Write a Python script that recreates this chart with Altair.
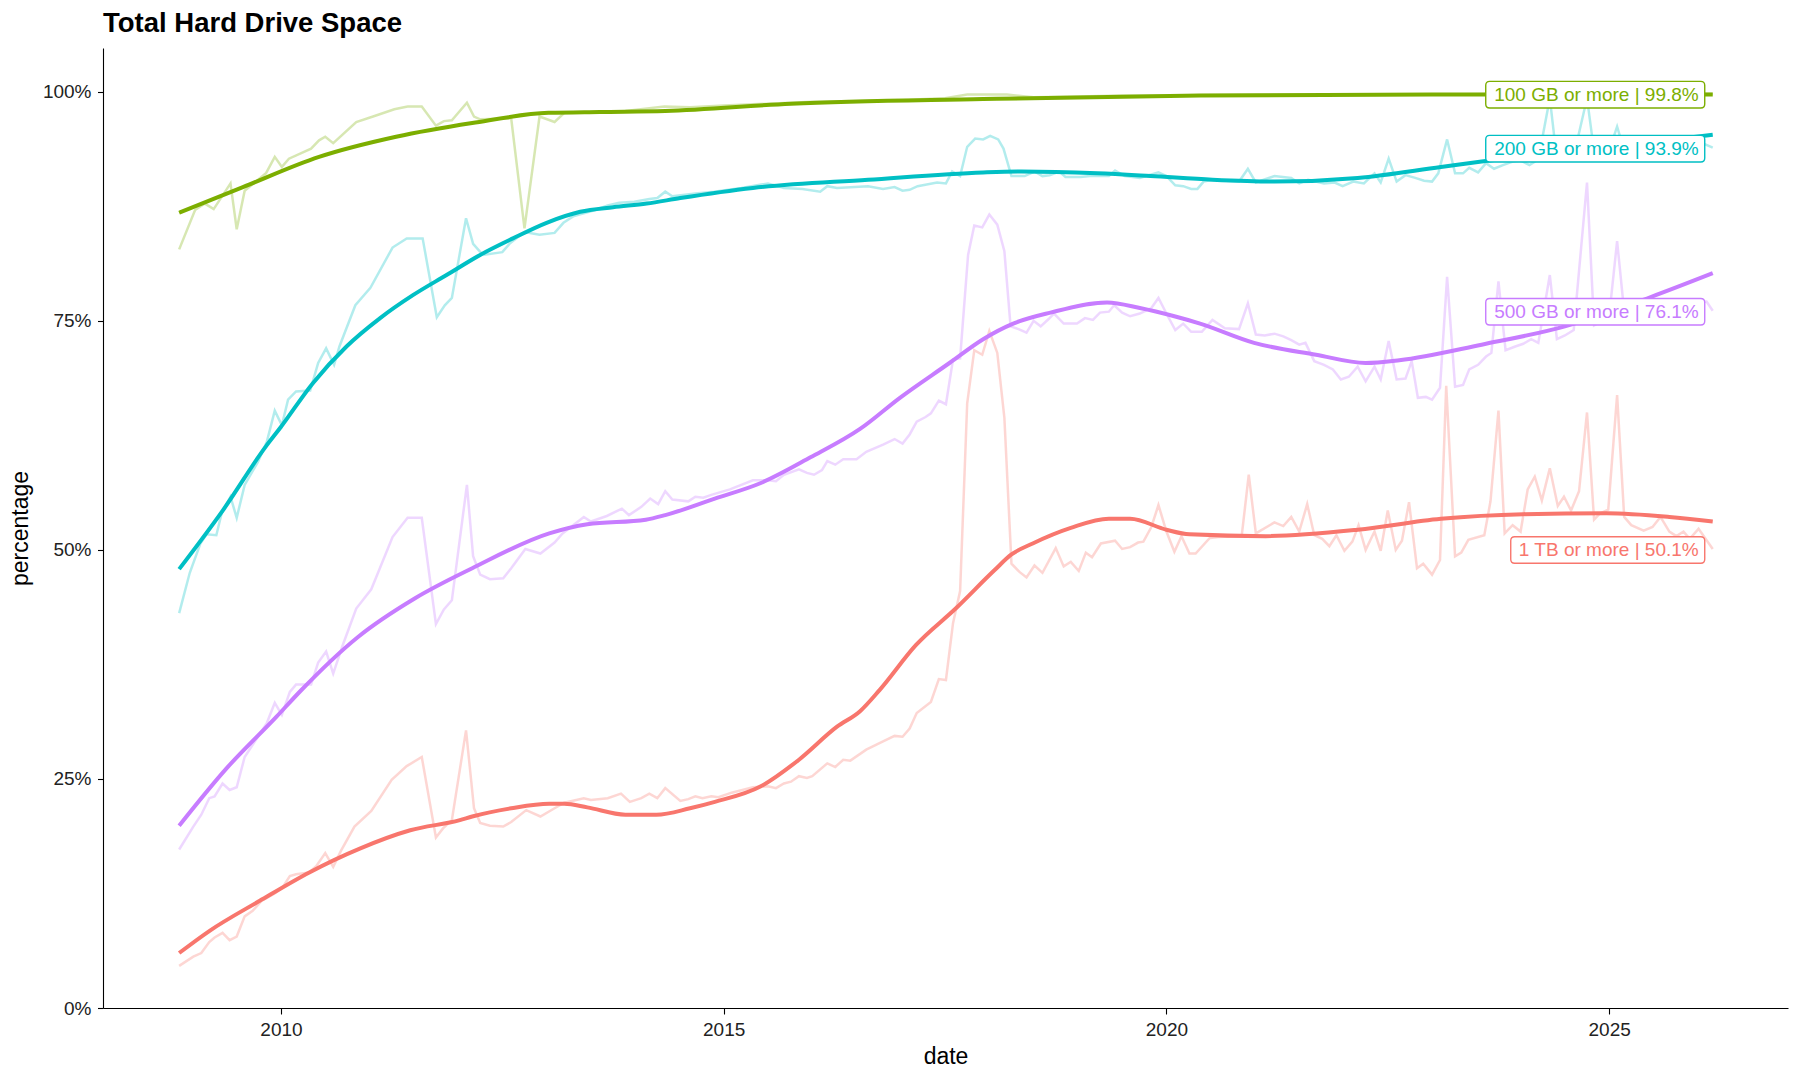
import altair as alt
import pandas as pd

SERIES = ["1 TB or more", "100 GB or more", "200 GB or more", "500 GB or more"]
COLORS = ["#F8766D", "#7CAE00", "#00BFC4", "#C77CFF"]

# ---- raw monthly readings: (decimal year, percent) ----
RAW_1TB = [
    (2008.85, 4.6), (2009.01, 5.6), (2009.10, 6.0), (2009.19, 7.2), (2009.25, 7.7), (2009.34, 8.2),
    (2009.42, 7.4), (2009.50, 7.8), (2009.59, 10.0), (2009.68, 10.6), (2009.78, 11.7), (2009.93, 12.5),
    (2010.02, 13.2), (2010.10, 14.4), (2010.17, 14.6), (2010.32, 14.8), (2010.40, 15.5), (2010.50, 16.9),
    (2010.59, 15.4), (2010.68, 17.2), (2010.83, 19.8), (2011.02, 21.5), (2011.25, 24.9), (2011.42, 26.4),
    (2011.59, 27.4), (2011.75, 18.6), (2011.83, 19.6), (2011.93, 20.5), (2012.09, 30.3), (2012.18, 21.8),
    (2012.25, 20.2), (2012.36, 19.9), (2012.51, 19.8), (2012.60, 20.3), (2012.77, 21.6), (2012.93, 20.9),
    (2013.09, 21.8), (2013.20, 22.4), (2013.42, 22.9), (2013.50, 22.7), (2013.69, 22.9), (2013.84, 23.4),
    (2013.94, 22.5), (2014.07, 22.9), (2014.16, 23.4), (2014.25, 22.9), (2014.34, 24.0), (2014.51, 22.6),
    (2014.60, 22.8), (2014.68, 23.1), (2014.76, 22.9), (2014.86, 23.1), (2014.94, 23.0), (2015.09, 23.5),
    (2015.33, 24.1), (2015.50, 24.2), (2015.59, 24.0), (2015.68, 24.5), (2015.76, 24.7), (2015.85, 25.3),
    (2015.94, 25.1), (2016.00, 25.3), (2016.17, 26.7), (2016.26, 26.3), (2016.35, 27.1), (2016.43, 27.0),
    (2016.61, 28.2), (2016.80, 29.1), (2016.93, 29.7), (2017.02, 29.6), (2017.10, 30.5), (2017.18, 32.2),
    (2017.34, 33.4), (2017.43, 35.9), (2017.51, 35.8), (2017.59, 42.0), (2017.67, 45.5), (2017.75, 66.0),
    (2017.83, 71.8), (2017.92, 71.3), (2018.00, 73.9), (2018.09, 71.5), (2018.17, 64.4), (2018.25, 48.5),
    (2018.34, 47.6), (2018.42, 47.0), (2018.51, 48.3), (2018.60, 47.5), (2018.75, 50.2), (2018.84, 48.2),
    (2018.92, 48.7), (2019.01, 47.7), (2019.09, 49.7), (2019.16, 49.2), (2019.26, 50.7), (2019.42, 51.0),
    (2019.50, 50.1), (2019.59, 50.3), (2019.68, 50.8), (2019.74, 50.9), (2019.83, 52.5), (2019.91, 54.9),
    (2020.00, 52.0), (2020.09, 49.8), (2020.17, 51.5), (2020.26, 49.6), (2020.33, 49.6), (2020.49, 51.3),
    (2020.59, 51.4), (2020.85, 51.5), (2020.93, 58.2), (2021.01, 51.8), (2021.22, 53.0), (2021.32, 52.6),
    (2021.41, 53.6), (2021.50, 52.0), (2021.59, 55.0), (2021.67, 51.6), (2021.76, 51.2), (2021.84, 50.4),
    (2021.92, 51.6), (2022.01, 49.9), (2022.10, 50.9), (2022.17, 52.7), (2022.25, 50.0), (2022.35, 52.0),
    (2022.42, 49.9), (2022.50, 54.3), (2022.59, 50.0), (2022.66, 51.0), (2022.74, 55.2), (2022.83, 48.0),
    (2022.90, 48.5), (2023.00, 47.3), (2023.09, 48.9), (2023.16, 67.9), (2023.26, 49.3), (2023.33, 49.7),
    (2023.41, 51.1), (2023.59, 51.6), (2023.66, 55.3), (2023.75, 65.2), (2023.82, 51.8), (2023.91, 52.7),
    (2024.00, 52.0), (2024.08, 56.6), (2024.16, 58.0), (2024.24, 55.4), (2024.33, 58.9), (2024.42, 54.8),
    (2024.49, 55.8), (2024.57, 54.3), (2024.66, 56.4), (2024.75, 65.0), (2024.83, 53.3), (2024.90, 54.0),
    (2024.99, 54.4), (2025.09, 66.9), (2025.17, 53.6), (2025.25, 52.7), (2025.39, 52.1), (2025.49, 52.5),
    (2025.58, 53.6), (2025.68, 52.0), (2025.76, 51.5), (2025.84, 52.0), (2025.91, 51.2), (2026.01, 52.3),
    (2026.17, 50.1),
]

RAW_100GB = [
    (2008.85, 82.8), (2009.03, 87.1), (2009.14, 87.8), (2009.24, 87.2), (2009.43, 90.0), (2009.50, 85.0),
    (2009.59, 89.2), (2009.83, 91.1), (2009.93, 92.9), (2010.01, 91.8), (2010.09, 92.7), (2010.34, 93.8),
    (2010.43, 94.7), (2010.50, 95.1), (2010.59, 94.4), (2010.85, 96.7), (2011.04, 97.3), (2011.28, 98.1),
    (2011.43, 98.4), (2011.59, 98.4), (2011.75, 96.3), (2011.84, 96.8), (2011.93, 96.9), (2012.10, 98.8),
    (2012.18, 97.3), (2012.25, 97.0), (2012.60, 97.1), (2012.75, 85.1), (2012.92, 97.3), (2013.09, 96.7),
    (2013.20, 97.7), (2013.89, 97.9), (2014.33, 98.4), (2014.62, 98.3), (2015.00, 98.5), (2015.50, 98.7),
    (2016.00, 98.9), (2016.50, 99.0), (2017.00, 99.1), (2017.50, 99.3), (2017.75, 99.7), (2018.20, 99.7),
    (2018.50, 99.4), (2019.00, 99.5), (2019.50, 99.6), (2020.00, 99.6), (2021.00, 99.7), (2022.00, 99.7),
    (2023.00, 99.7), (2024.00, 99.8), (2025.00, 99.8), (2026.17, 99.8),
]

RAW_200GB = [
    (2008.85, 43.1), (2008.97, 47.5), (2009.09, 50.7), (2009.16, 51.7), (2009.27, 51.6), (2009.33, 54.0),
    (2009.43, 55.8), (2009.50, 53.5), (2009.59, 57.1), (2009.74, 59.6), (2009.84, 61.8), (2009.93, 65.2),
    (2010.01, 63.6), (2010.08, 66.4), (2010.17, 67.3), (2010.33, 67.4), (2010.42, 70.4), (2010.51, 72.0),
    (2010.60, 70.2), (2010.66, 72.2), (2010.84, 76.7), (2011.01, 78.6), (2011.26, 83.0), (2011.42, 84.0),
    (2011.60, 84.0), (2011.76, 75.4), (2011.85, 76.7), (2011.93, 77.5), (2012.09, 86.2), (2012.17, 83.4),
    (2012.28, 82.2), (2012.50, 82.5), (2012.58, 83.4), (2012.75, 84.7), (2012.92, 84.4), (2013.09, 84.6),
    (2013.19, 85.7), (2013.30, 86.4), (2013.55, 87.1), (2013.69, 87.6), (2013.82, 87.9), (2013.99, 88.0),
    (2014.16, 88.3), (2014.25, 88.4), (2014.34, 89.1), (2014.42, 88.6), (2014.68, 88.9), (2014.89, 89.1),
    (2015.20, 89.5), (2015.50, 90.0), (2015.68, 89.5), (2015.89, 89.4), (2016.09, 89.1), (2016.17, 89.7),
    (2016.28, 89.5), (2016.63, 89.7), (2016.80, 89.4), (2016.93, 89.6), (2017.02, 89.2), (2017.10, 89.3),
    (2017.19, 89.7), (2017.41, 90.1), (2017.51, 90.0), (2017.58, 91.3), (2017.67, 90.8), (2017.75, 94.0),
    (2017.84, 94.9), (2017.93, 94.8), (2018.01, 95.2), (2018.10, 94.8), (2018.16, 93.8), (2018.25, 90.8),
    (2018.40, 90.8), (2018.51, 91.3), (2018.60, 90.8), (2018.68, 90.9), (2018.79, 91.3), (2018.86, 90.7),
    (2019.03, 90.7), (2019.14, 90.8), (2019.35, 90.8), (2019.42, 91.4), (2019.53, 90.8), (2019.70, 90.6),
    (2019.91, 91.2), (2020.00, 90.8), (2020.10, 89.8), (2020.19, 89.7), (2020.28, 89.4), (2020.35, 89.4),
    (2020.42, 90.2), (2020.52, 90.4), (2020.82, 90.2), (2020.92, 91.6), (2021.01, 90.1), (2021.22, 90.8),
    (2021.41, 90.6), (2021.50, 90.0), (2021.60, 90.4), (2021.78, 90.0), (2021.90, 90.1), (2021.99, 89.7),
    (2022.11, 90.2), (2022.23, 90.0), (2022.35, 91.1), (2022.42, 90.1), (2022.51, 92.7), (2022.60, 90.2),
    (2022.70, 90.9), (2022.81, 90.6), (2022.91, 90.3), (2023.00, 90.2), (2023.07, 91.1), (2023.17, 94.8),
    (2023.26, 91.1), (2023.35, 91.1), (2023.42, 91.7), (2023.52, 91.2), (2023.61, 92.2), (2023.70, 91.6),
    (2023.80, 92.0), (2023.92, 92.4), (2024.00, 92.5), (2024.10, 92.0), (2024.20, 92.6), (2024.33, 99.3),
    (2024.41, 92.6), (2024.50, 93.0), (2024.60, 93.0), (2024.75, 99.3), (2024.83, 93.5), (2024.92, 93.2),
    (2025.00, 93.6), (2025.09, 96.2), (2025.17, 93.6), (2025.30, 93.5), (2025.50, 94.0), (2025.70, 94.0),
    (2025.90, 94.2), (2026.05, 94.4), (2026.17, 93.9),
]

RAW_500GB = [
    (2008.85, 17.3), (2009.01, 19.8), (2009.10, 21.1), (2009.19, 22.9), (2009.25, 23.1), (2009.34, 24.5),
    (2009.42, 23.8), (2009.50, 24.1), (2009.59, 27.4), (2009.74, 29.6), (2009.84, 31.1), (2009.93, 33.3),
    (2010.01, 32.0), (2010.10, 34.5), (2010.17, 35.3), (2010.34, 35.3), (2010.42, 37.7), (2010.51, 38.9),
    (2010.59, 36.5), (2010.69, 39.4), (2010.85, 43.6), (2011.02, 45.7), (2011.26, 51.4), (2011.43, 53.5),
    (2011.59, 53.5), (2011.75, 41.9), (2011.84, 43.5), (2011.93, 44.5), (2012.10, 57.1), (2012.17, 49.3),
    (2012.25, 47.3), (2012.36, 46.8), (2012.51, 46.9), (2012.60, 48.0), (2012.76, 50.1), (2012.93, 49.6),
    (2013.09, 50.8), (2013.18, 51.8), (2013.42, 53.6), (2013.50, 53.1), (2013.68, 53.7), (2013.85, 54.5),
    (2013.93, 53.8), (2014.07, 54.7), (2014.17, 55.6), (2014.26, 55.0), (2014.34, 56.4), (2014.42, 55.5),
    (2014.60, 55.3), (2014.68, 55.8), (2014.77, 55.7), (2014.86, 56.0), (2015.07, 56.6), (2015.33, 57.6),
    (2015.50, 57.6), (2015.59, 57.5), (2015.68, 58.2), (2015.85, 58.8), (2015.94, 58.4), (2016.02, 58.2),
    (2016.11, 58.7), (2016.17, 59.7), (2016.26, 59.3), (2016.35, 59.9), (2016.50, 59.9), (2016.61, 60.7),
    (2016.80, 61.5), (2016.93, 62.1), (2017.02, 61.6), (2017.10, 62.6), (2017.18, 64.0), (2017.28, 64.5),
    (2017.34, 64.9), (2017.43, 66.3), (2017.51, 65.9), (2017.59, 70.8), (2017.67, 70.9), (2017.76, 82.2),
    (2017.83, 85.4), (2017.92, 85.2), (2018.00, 86.6), (2018.09, 85.5), (2018.17, 82.6), (2018.24, 74.4),
    (2018.33, 74.1), (2018.42, 73.7), (2018.50, 75.0), (2018.58, 74.4), (2018.67, 75.2), (2018.73, 75.8),
    (2018.84, 74.7), (2018.99, 74.7), (2019.08, 75.3), (2019.17, 75.1), (2019.25, 75.9), (2019.35, 76.0),
    (2019.41, 76.7), (2019.50, 75.9), (2019.59, 75.5), (2019.70, 75.8), (2019.83, 76.4), (2019.91, 77.5),
    (2020.00, 75.8), (2020.10, 74.0), (2020.19, 74.7), (2020.28, 73.8), (2020.40, 73.8), (2020.52, 75.1),
    (2020.66, 74.2), (2020.82, 74.1), (2020.92, 76.9), (2021.01, 73.5), (2021.11, 73.4), (2021.22, 73.6),
    (2021.32, 73.3), (2021.41, 72.9), (2021.50, 72.4), (2021.57, 72.6), (2021.67, 70.6), (2021.78, 70.2),
    (2021.88, 69.7), (2021.97, 68.6), (2022.06, 68.9), (2022.16, 70.0), (2022.25, 68.4), (2022.35, 70.0),
    (2022.42, 68.6), (2022.51, 72.8), (2022.60, 68.6), (2022.70, 68.7), (2022.77, 70.6), (2022.84, 66.6),
    (2022.93, 66.7), (2023.00, 66.4), (2023.09, 67.7), (2023.17, 79.8), (2023.26, 67.8), (2023.35, 68.0),
    (2023.42, 69.7), (2023.52, 70.2), (2023.61, 71.1), (2023.67, 71.5), (2023.75, 79.3), (2023.83, 71.8),
    (2023.94, 72.2), (2024.03, 72.5), (2024.12, 73.0), (2024.20, 72.6), (2024.33, 80.0), (2024.41, 73.0),
    (2024.50, 73.4), (2024.60, 74.0), (2024.75, 90.1), (2024.83, 74.5), (2024.92, 75.0), (2025.00, 75.5),
    (2025.09, 83.7), (2025.17, 76.0), (2025.30, 76.0), (2025.50, 76.5), (2025.70, 76.6), (2025.90, 77.0),
    (2026.10, 77.1), (2026.17, 76.1),
]

# ---- smoothed trend readings: (decimal year, percent) ----
SMOOTH_1TB = [
    (2008.85, 6.0), (2009.19, 8.4), (2009.76, 11.7), (2010.32, 14.8), (2010.89, 17.4), (2011.46, 19.4),
    (2012.02, 20.5), (2012.16, 20.9), (2012.60, 21.8), (2013.03, 22.3), (2013.20, 22.3), (2013.46, 21.9),
    (2013.89, 21.1), (2014.24, 21.1), (2014.62, 21.8), (2014.90, 22.5), (2015.42, 24.2), (2015.85, 27.1),
    (2016.28, 30.7), (2016.54, 32.4), (2016.76, 34.7), (2017.17, 39.6), (2017.62, 43.6), (2018.06, 47.8),
    (2018.25, 49.5), (2018.49, 50.7), (2018.92, 52.4), (2019.35, 53.4), (2019.59, 53.4), (2020.00, 52.2),
    (2020.26, 51.7), (2021.12, 51.5), (2022.16, 52.2), (2023.10, 53.4), (2024.03, 53.9), (2024.97, 54.0),
    (2025.68, 53.6), (2026.17, 53.1),
]
SMOOTH_100GB = [
    (2008.85, 86.8), (2009.57, 89.6), (2010.43, 92.9), (2011.30, 95.1), (2012.16, 96.6), (2013.02, 97.7),
    (2013.60, 97.8), (2014.34, 97.9), (2015.76, 98.7), (2017.93, 99.2), (2020.38, 99.6), (2023.00, 99.7),
    (2026.17, 99.7),
]
SMOOTH_200GB = [
    (2008.85, 47.9), (2009.35, 54.4), (2009.83, 61.3), (2009.99, 63.3), (2010.36, 68.2), (2010.74, 72.2),
    (2011.12, 75.3), (2011.49, 77.8), (2011.87, 80.0), (2012.25, 82.2), (2012.62, 84.0), (2013.00, 85.7),
    (2013.38, 86.9), (2013.75, 87.4), (2014.13, 87.8), (2014.51, 88.4), (2015.33, 89.5), (2016.63, 90.4),
    (2017.93, 91.2), (2018.36, 91.3), (2019.22, 91.1), (2019.82, 90.8), (2020.52, 90.4), (2021.22, 90.2),
    (2022.16, 90.6), (2023.10, 91.8), (2023.56, 92.4), (2024.50, 93.4), (2025.30, 94.3), (2026.17, 95.3),
]
SMOOTH_500GB = [
    (2008.85, 19.9), (2009.38, 26.1), (2009.95, 31.8), (2010.22, 34.6), (2010.87, 40.5), (2011.51, 44.7),
    (2012.16, 48.0), (2013.03, 51.8), (2013.46, 52.8), (2014.12, 53.3), (2014.34, 53.8), (2014.90, 55.6),
    (2015.42, 57.3), (2015.98, 60.1), (2016.54, 63.2), (2016.99, 66.6), (2017.55, 70.4), (2017.93, 73.0),
    (2018.27, 74.7), (2018.69, 75.9), (2019.33, 77.0), (2019.70, 76.4), (2020.09, 75.5), (2020.38, 74.7),
    (2020.99, 72.6), (2021.69, 71.3), (2022.25, 70.4), (2022.63, 70.7), (2023.56, 72.4), (2024.50, 74.4),
    (2025.47, 77.6), (2026.17, 80.2),
]

X_TICKS = [2010, 2015, 2020, 2025]
Y_TICKS = [0, 25, 50, 75, 100]

RAW = dict(zip(SERIES, [RAW_1TB, RAW_100GB, RAW_200GB, RAW_500GB]))
SMOOTH = dict(zip(SERIES, [SMOOTH_1TB, SMOOTH_100GB, SMOOTH_200GB, SMOOTH_500GB]))


def to_frame(d):
    return pd.concat(
        [pd.DataFrame(v, columns=["year", "pct"]).assign(series=k) for k, v in d.items()],
        ignore_index=True,
    )


raw_df = to_frame(RAW)
smooth_df = to_frame(SMOOTH)
label_df = pd.DataFrame(
    [
        {"series": k, "year": v[-1][0], "pct": v[-1][1], "label": f"{k} | {v[-1][1]:.1f}%"}
        for k, v in RAW.items()
    ]
)

FONT = "Liberation Sans"
color_scale = alt.Scale(domain=SERIES, range=COLORS)

x_enc = alt.X(
    "year:Q",
    scale=alt.Scale(domain=[2007.99, 2027.02], nice=False, zero=False),
    axis=alt.Axis(
        values=X_TICKS, format="d", title="date", grid=False,
        titleY=55, titleBaseline="alphabetic",
    ),
)
y_enc = alt.Y(
    "pct:Q",
    scale=alt.Scale(domain=[0, 104.78], nice=False),
    axis=alt.Axis(
        values=Y_TICKS, labelExpr="datum.value + '%'", title="percentage", grid=False,
        titleX=-76, titleAngle=270, titleBaseline="alphabetic",
    ),
)

raw_layer = alt.Chart(raw_df).mark_line(strokeWidth=2.5, opacity=0.3).encode(
    x=x_enc, y=y_enc, color=alt.Color("series:N", scale=color_scale, legend=None)
)
smooth_layer = alt.Chart(smooth_df).mark_line(strokeWidth=4, interpolate="monotone").encode(
    x=x_enc, y=y_enc, color=alt.Color("series:N", scale=color_scale, legend=None)
)


def rounded_box(x0, x1, y0, y1, r):
    return (
        f"M{x0 + r},{y0}H{x1 - r}Q{x1},{y0} {x1},{y0 + r}V{y1 - r}Q{x1},{y1} {x1 - r},{y1}"
        f"H{x0 + r}Q{x0},{y1} {x0},{y1 - r}V{y0 + r}Q{x0},{y0} {x0 + r},{y0}Z"
    )


WIDE_BOX = rounded_box(-227, -8, -12.3, 14.3, 4)
NARROW_BOX = rounded_box(-202, -8, -12.3, 14.3, 4)


def box_layer(shape, keep):
    return (
        alt.Chart(label_df)
        .transform_filter(keep)
        .mark_point(shape=shape, size=4, filled=True, fill="white", fillOpacity=1,
                    strokeWidth=1.4, strokeOpacity=1, opacity=1)
        .encode(x=x_enc, y=y_enc, stroke=alt.Stroke("series:N", scale=color_scale, legend=None))
    )


boxes_wide = box_layer(WIDE_BOX, alt.datum.series != "1 TB or more")
boxes_narrow = box_layer(NARROW_BOX, alt.datum.series == "1 TB or more")

label_text = alt.Chart(label_df).mark_text(
    align="right", baseline="middle", dx=-14, dy=1, fontSize=19, font=FONT
).encode(
    x=x_enc, y=y_enc, text="label:N",
    color=alt.Color("series:N", scale=color_scale, legend=None),
)

chart = (
    alt.layer(raw_layer, smooth_layer, boxes_wide, boxes_narrow, label_text)
    .properties(
        width=1685,
        height=960,
        padding={"left": 103, "top": 48, "right": 12, "bottom": 72},
        autosize=alt.AutoSizeParams(type="none"),
        background="white",
        title=alt.TitleParams(
            "Total Hard Drive Space", anchor="start", frame="group", fontSize=27.5,
            fontWeight="bold", font=FONT, color="black", offset=16, baseline="alphabetic",
            dy=27,
        ),
    )
    .configure_view(stroke=None)
    .configure_axis(
        domainColor="black", domainWidth=1.1, tickColor="black", tickWidth=1.1,
        labelFont=FONT, labelFontSize=19, labelColor="#222222",
        titleFont=FONT, titleFontSize=23, titleFontWeight="normal", titleColor="black",
    )
    .configure_axisX(tickSize=6, labelPadding=6.5)
    .configure_axisY(tickSize=5.5, labelPadding=6.5)
)

chart.save("out.html", embed_options={"renderer": "svg", "actions": False})
